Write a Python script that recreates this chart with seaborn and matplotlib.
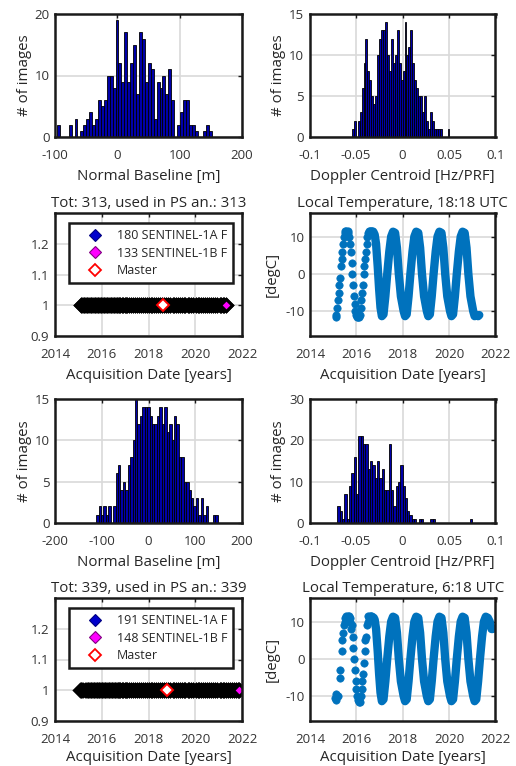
import numpy as np
import pandas as pd
import matplotlib
matplotlib.use('Agg')
import matplotlib.pyplot as plt
import seaborn as sns
from matplotlib.lines import Line2D
from matplotlib.ticker import FormatStrFormatter

sns.set_theme(style='white')
plt.rcParams['font.family'] = ['Open Sans', 'DejaVu Sans']
plt.rcParams['axes.unicode_minus'] = False

# ---- track 1 (top two rows) ----
bperp1_start, bperp1_width = -96.85, 4.7
bperp1_counts = [2, 0, 0, 0, 2, 0, 3, 0, 1, 2,
                 3, 4, 2, 3, 6, 5, 6, 10, 10, 8,
                 19, 12, 9, 17, 9, 12, 15, 7, 17, 16,
                 9, 12, 11, 3, 9, 8, 10, 7, 11, 6,
                 0, 2, 4, 6, 6, 2, 2, 1, 0, 0,
                 1, 2, 1]
dop1_start, dop1_width = -0.0545, 0.0021
dop1_counts = [1, 2, 0, 2, 3, 6, 9, 12, 8, 7,
               5, 4, 5, 10, 12, 13, 13, 14, 10, 8,
               12, 9, 10, 13, 9, 7, 8, 14, 10, 11,
               13, 9, 7, 6, 5, 5, 3, 5, 2, 1,
               3, 2, 1, 1, 1, 1, 0, 0, 0, 1]

# early acquisitions (Sentinel-1A only), temperature in degC
temp1_sparse_dates = [2015.10, 2015.13, 2015.16, 2015.20, 2015.23, 2015.26, 2015.29, 2015.33, 2015.36, 2015.39,
                      2015.43, 2015.46, 2015.49, 2015.53, 2015.56, 2015.59, 2015.62, 2015.66, 2015.69, 2015.72,
                      2015.75, 2015.79, 2015.82, 2015.85, 2015.88, 2015.92, 2015.95, 2015.98, 2016.02, 2016.05,
                      2016.08, 2016.11, 2016.15, 2016.18, 2016.21, 2016.24, 2016.28, 2016.31, 2016.34, 2016.38,
                      2016.41, 2016.44, 2016.47, 2016.51, 2016.54, 2016.57, 2016.61, 2016.64, 2016.67, 2016.70]
temp1_sparse = [-11.5, -11, -9, -7, -5, -3, -1, 2, 4, 6,
                8, 10, 11, 11.5, 11.5, 11, 11.5, 11, 10, 8,
                6, 3, 0, -3, -6, -8, -10, -11, -11.5, -11.5,
                -11, -11.5, -11, -9, -7, -5, -3, 0, 2, 4,
                6, 8, 10, 11, 11.5, 11.5, 11, 11.5, 11.5, 11]
# dense period (1A + 1B), monthly readings of the band
temp1_dates = [2016.73, 2016.79, 2016.85, 2016.92, 2016.98, 2017.04, 2017.10, 2017.17, 2017.25, 2017.33,
               2017.42, 2017.50, 2017.58, 2017.67, 2017.75, 2017.83, 2017.92, 2018.04, 2018.10, 2018.17,
               2018.25, 2018.33, 2018.42, 2018.50, 2018.58, 2018.67, 2018.75, 2018.83, 2018.92, 2019.04,
               2019.10, 2019.17, 2019.25, 2019.33, 2019.42, 2019.50, 2019.58, 2019.67, 2019.75, 2019.83,
               2019.92, 2020.04, 2020.10, 2020.17, 2020.25, 2020.33, 2020.42, 2020.50, 2020.58, 2020.67,
               2020.75, 2020.83, 2020.92, 2021.04, 2021.10, 2021.17, 2021.25, 2021.30]
temp1_vals = [11.3, 10.5, 8, 2, -4, -9, -11.3, -10.8, -6, 0,
              6, 10, 11.3, 11, 7, 0, -6, -10, -11.3, -10.8,
              -6, 0, 6, 10, 11.3, 11, 7, 0, -6, -10,
              -11.3, -10.8, -6, 0, 6, 10, 11.3, 11, 7, 0,
              -6, -10, -11.3, -10.8, -6, 0, 6, 10, 11.3, 11,
              7, 0, -6, -10, -11.3, -11, -11.3, -11]
master1_date = 2018.6
legend1 = ['180 SENTINEL-1A F', '133 SENTINEL-1B F', 'Master']
title1_left = 'Tot: 313, used in PS an.: 313'
title1_right = 'Local Temperature, 18:18 UTC'

# ---- track 2 (bottom two rows) ----
bperp2_start, bperp2_width = -112.0, 5.2
bperp2_counts = [1, 2, 1, 2, 1, 2, 0, 2, 6, 7,
                 4, 5, 4, 7, 8, 10, 15, 12, 13, 14,
                 14, 14, 13, 12, 12, 13, 14, 12, 14, 11,
                 12, 10, 13, 12, 8, 8, 5, 5, 4, 3,
                 2, 3, 1, 3, 1, 2, 0, 0, 1, 1]
dop2_start, dop2_width = -0.070, 0.0025
dop2_counts = [4, 3, 1, 7, 1, 9, 12, 16, 7, 21,
               21, 19, 19, 13, 15, 14, 11, 15, 11, 13,
               8, 8, 19, 8, 4, 9, 10, 14, 9, 6,
               3, 2, 1, 1, 0, 1, 1, 0, 0, 0,
               1, 1, 0, 0, 0, 0, 0, 0, 0, 0,
               0, 0, 0, 0, 0, 0, 0, 1]

temp2_sparse_dates = [2015.08, 2015.10, 2015.13, 2015.16, 2015.19, 2015.29, 2015.31, 2015.36, 2015.40, 2015.43,
                      2015.46, 2015.49, 2015.52, 2015.55, 2015.58, 2015.62, 2015.65, 2015.68, 2015.71, 2015.74,
                      2015.78, 2015.81, 2015.84, 2015.87, 2015.90, 2015.94, 2015.97, 2016.00, 2016.03, 2016.06,
                      2016.10, 2016.13, 2016.16, 2016.19, 2016.23, 2016.26, 2016.29, 2016.32, 2016.36, 2016.39,
                      2016.42, 2016.45, 2016.49, 2016.52, 2016.55, 2016.58, 2016.62, 2016.65]
temp2_sparse = [-10.5, -9.5, -11, -10, -9.8, -5, -3, 2, 5, 7,
                9, 10, 11, 11.5, 11, 11.5, 11, 11.5, 11, 10,
                8, 9, 6, 3, 0, -3, -6, -8, -10, -11,
                -11.5, -11, -11.5, -10, -8, -6, -4, -1, 2, 5,
                6, 9, 10, 11.5, 11, 11.5, 11.5, 11]
temp2_dates = [2016.68, 2016.75, 2016.79, 2016.85, 2016.92, 2016.98, 2017.04, 2017.10, 2017.17, 2017.25,
               2017.33, 2017.42, 2017.50, 2017.58, 2017.67, 2017.75, 2017.83, 2017.92, 2018.04, 2018.10,
               2018.17, 2018.25, 2018.33, 2018.42, 2018.50, 2018.58, 2018.67, 2018.75, 2018.83, 2018.92,
               2019.04, 2019.10, 2019.17, 2019.25, 2019.33, 2019.42, 2019.50, 2019.58, 2019.67, 2019.75,
               2019.83, 2019.92, 2020.04, 2020.10, 2020.17, 2020.25, 2020.33, 2020.42, 2020.50, 2020.58,
               2020.67, 2020.75, 2020.83, 2020.92, 2021.04, 2021.10, 2021.17, 2021.25, 2021.33, 2021.42,
               2021.50, 2021.58, 2021.67, 2021.75, 2021.83, 2021.88]
temp2_vals = [11.3, 11, 10.5, 8, 2, -4, -9, -11.3, -10.8, -6,
              0, 6, 10, 11.3, 11, 7, 0, -6, -10, -11.3,
              -10.8, -6, 0, 6, 10, 11.3, 11, 7, 0, -6,
              -10, -11.3, -10.8, -6, 0, 6, 10, 11.3, 11, 7,
              0, -6, -10, -11.3, -10.8, -6, 0, 6, 10, 11.3,
              11, 7, 0, -6, -10, -11.3, -10.8, -6, 0, 6,
              10, 11.3, 11, 10, 8, 8]
master2_date = 2018.8
legend2 = ['191 SENTINEL-1A F', '148 SENTINEL-1B F', 'Master']
title2_left = 'Tot: 339, used in PS an.: 339'
title2_right = 'Local Temperature, 6:18 UTC'

acq_level = 1.0

# ---- styling ----
DARK = '#1a1a1a'
TXT = '#262626'
TEMP_C = '#0072BD'
LABEL_FS = 10.8
TICK_FS = 9.5
W, H = 516, 766

fig = plt.figure(figsize=(W / 100, H / 100), dpi=100)


def add_ax(x0, x1, y0, y1):
    return fig.add_axes([x0 / W, 1 - y1 / H, (x1 - x0) / W, (y1 - y0) / H])


def style(ax):
    for s in ax.spines.values():
        s.set_visible(True)
        s.set_color(DARK)
        s.set_linewidth(1.8)
    ax.grid(True, color='#d9d9d9', lw=1.2)
    ax.set_axisbelow(True)
    ax.tick_params(direction='in', length=3, width=1, color=DARK, labelsize=TICK_FS,
                   labelcolor='#333333', top=True, right=True)
    ax.tick_params(axis='x', pad=8.5)
    ax.tick_params(axis='y', pad=4)


def draw_hist(ax, start, width, counts, xlim, xticks, ylim, yticks, xlabel, fmt=None):
    edges = [start + width * i for i in range(len(counts) + 1)]
    df = pd.DataFrame({'center': [e + width / 2 for e in edges[:-1]], 'count': counts})
    sns.histplot(data=df, x='center', weights='count', bins=edges, color='#0000a8',
                 edgecolor='black', linewidth=0.6, alpha=1, ax=ax)
    style(ax)
    ax.set_xlim(xlim)
    ax.set_ylim(ylim)
    ax.set_xticks(xticks)
    ax.set_yticks(yticks)
    if fmt:
        ax.xaxis.set_major_formatter(FormatStrFormatter(fmt))
    ax.set_xlabel(xlabel, fontsize=LABEL_FS, color=TXT, labelpad=5.5)
    ax.set_ylabel('# of images', fontsize=LABEL_FS, color=TXT, labelpad=2)


def draw_acq(ax, s1a, s1b, master, labels, title, xpad):
    ones_a = [acq_level] * len(s1a)
    ones_b = [acq_level] * len(s1b)
    ax.plot(s1a, ones_a, ls='none', marker='D', ms=6, mfc='#0000cc', mec='black', mew=2.2)
    ax.plot(s1b, ones_b, ls='none', marker='D', ms=6, mfc='#ff00ff', mec='black', mew=2.2)
    ax.plot([master], [acq_level], ls='none', marker='D', ms=6.5, mfc='white', mec='red', mew=1.4)
    style(ax)
    ax.set_xlim(2014, 2022)
    ax.set_ylim(0.9, 1.3)
    ax.set_xticks([2014, 2016, 2018, 2020, 2022])
    ax.set_yticks([0.9, 1.0, 1.1, 1.2])
    ax.yaxis.set_major_formatter(FormatStrFormatter('%g'))
    ax.set_xlabel('Acquisition Date [years]', fontsize=LABEL_FS, color=TXT, labelpad=xpad)
    ax.set_title(title, fontsize=LABEL_FS, color=TXT, pad=4)
    handles = [
        Line2D([], [], ls='none', marker='D', ms=6.5, mfc='#0000cc', mec='#000080', mew=0.8),
        Line2D([], [], ls='none', marker='D', ms=6.5, mfc='#ff00ff', mec='#800080', mew=0.8),
        Line2D([], [], ls='none', marker='D', ms=6.5, mfc='white', mec='red', mew=1.3),
    ]
    leg = ax.legend(handles, labels, loc='upper left', bbox_to_anchor=(0.075, 0.919),
                    borderaxespad=0, fontsize=9, frameon=True, fancybox=False,
                    framealpha=1, edgecolor=DARK, borderpad=0.5, handlelength=3.2,
                    handletextpad=0.1, labelspacing=0.35)
    leg.get_frame().set_linewidth(1.8)
    for t in leg.get_texts():
        t.set_color(TXT)


def draw_temp(ax, sparse_d, sparse_t, dense_d, dense_t, title, xpad):
    ax.plot(dense_d, dense_t, color=TEMP_C, lw=6, solid_capstyle='round', solid_joinstyle='round')
    sns.scatterplot(x=sparse_d, y=sparse_t, color=TEMP_C, s=28, edgecolor=TEMP_C, linewidth=0.5, ax=ax)
    style(ax)
    ax.set_xlim(2014, 2022)
    ax.set_ylim(-16.6, 16.3)
    ax.set_xticks([2014, 2016, 2018, 2020, 2022])
    ax.set_yticks([-10, 0, 10])
    ax.set_xlabel('Acquisition Date [years]', fontsize=LABEL_FS, color=TXT, labelpad=xpad)
    ax.set_ylabel('[degC]', fontsize=LABEL_FS, color=TXT, labelpad=4)
    ax.set_title(title, fontsize=LABEL_FS, color=TXT, pad=4)


ax_bl1 = add_ax(55, 242, 14, 137)
ax_dc1 = add_ax(309.5, 495.5, 14, 137)
ax_acq1 = add_ax(55, 242, 213, 336)
ax_t1 = add_ax(310, 495.5, 213, 336)
ax_bl2 = add_ax(55, 242, 399, 523)
ax_dc2 = add_ax(309.5, 495.5, 399, 523)
ax_acq2 = add_ax(55, 242, 598, 721)
ax_t2 = add_ax(310, 495.5, 598, 721)

draw_hist(ax_bl1, bperp1_start, bperp1_width, bperp1_counts, (-100, 200), [-100, 0, 100, 200],
          (0, 20), [0, 10, 20], 'Normal Baseline [m]')
draw_hist(ax_dc1, dop1_start, dop1_width, dop1_counts, (-0.1, 0.1), [-0.1, -0.05, 0, 0.05, 0.1],
          (0, 15), [0, 5, 10, 15], 'Doppler Centroid [Hz/PRF]', fmt='%g')
draw_hist(ax_bl2, bperp2_start, bperp2_width, bperp2_counts, (-200, 200), [-200, -100, 0, 100, 200],
          (0, 15), [0, 5, 10, 15], 'Normal Baseline [m]')
draw_hist(ax_dc2, dop2_start, dop2_width, dop2_counts, (-0.1, 0.1), [-0.1, -0.05, 0, 0.05, 0.1],
          (0, 30), [0, 10, 20, 30], 'Doppler Centroid [Hz/PRF]', fmt='%g')

draw_acq(ax_acq1, temp1_sparse_dates + temp1_dates, temp1_dates, master1_date, legend1, title1_left, 5.5)
draw_acq(ax_acq2, temp2_sparse_dates + temp2_dates, temp2_dates, master2_date, legend2, title2_left, 3)

draw_temp(ax_t1, temp1_sparse_dates, temp1_sparse, temp1_dates, temp1_vals, title1_right, 5.5)
draw_temp(ax_t2, temp2_sparse_dates, temp2_sparse, temp2_dates, temp2_vals, title2_right, 3)

fig.savefig('out.png', dpi=100, facecolor='white')
